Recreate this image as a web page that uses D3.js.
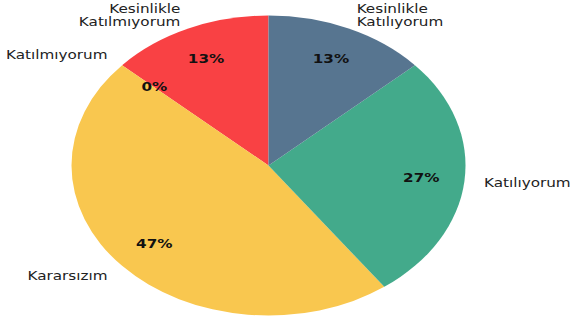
<!DOCTYPE html>
<html>
<head>
<meta charset="utf-8">
<script src="https://cdn.jsdelivr.net/npm/d3@7"></script>
<style>
html,body{margin:0;padding:0;background:#fff;}
svg{display:block;}
text{font-family:"DejaVu Sans",sans-serif;}
</style>
</head>
<body>
<script>
const categories = [["Kesinlikle","Katılmıyorum"],["Katılmıyorum"],["Kararsızım"],["Katılıyorum"],["Kesinlikle","Katılıyorum"]];
const values = [2, 0, 7, 4, 2];
const colors = ["#F94144", "#F3722C", "#F9C74F", "#43AA8B", "#577590"];

const W = 571, H = 322;
const cx = 268.5, cy = 165.5, rx = 197, ry = 150;
const r = ry, sx = rx / ry;

const svg = d3.select("body").append("svg").attr("width", W).attr("height", H);
const g = svg.append("g").attr("transform", `translate(${cx},${cy}) scale(${sx},1)`);

const total = d3.sum(values);
const pie = d3.pie().sort(null).startAngle(0).endAngle(-2 * Math.PI);
const arcs = pie(values);
const arc = d3.arc().innerRadius(0).outerRadius(r);

g.selectAll("path.slice").data(arcs).join("path")
  .attr("class", "slice")
  .attr("d", arc)
  .attr("fill", (d, i) => colors[i]);

const fs = 11.6;
const pos = (a, k) => [Math.sin(a) * r * k, -Math.cos(a) * r * k];

g.selectAll("text.pct").data(arcs).join("text")
  .attr("class", "pct")
  .attr("x", d => pos((d.startAngle + d.endAngle) / 2, 0.78)[0])
  .attr("y", d => pos((d.startAngle + d.endAngle) / 2, 0.78)[1])
  .attr("text-anchor", "middle")
  .attr("dominant-baseline", "central")
  .attr("font-size", fs)
  .attr("font-weight", "bold")
  .attr("fill", "#111")
  .text(d => Math.round(d.value / total * 100) + "%");

const lh = 13;
arcs.forEach((d, i) => {
  const a = (d.startAngle + d.endAngle) / 2;
  const [x, y] = pos(a, 1.1);
  const lines = categories[i];
  const t = g.append("text")
    .attr("text-anchor", x > 0 ? "start" : "end")
    .attr("font-size", fs)
    .attr("fill", "#222");
  lines.forEach((ln, j) => {
    t.append("tspan")
      .attr("x", x)
      .attr("y", y + (j - (lines.length - 1) / 2) * lh)
      .attr("dominant-baseline", "central")
      .text(ln);
  });
});
</script>
</body>
</html>
